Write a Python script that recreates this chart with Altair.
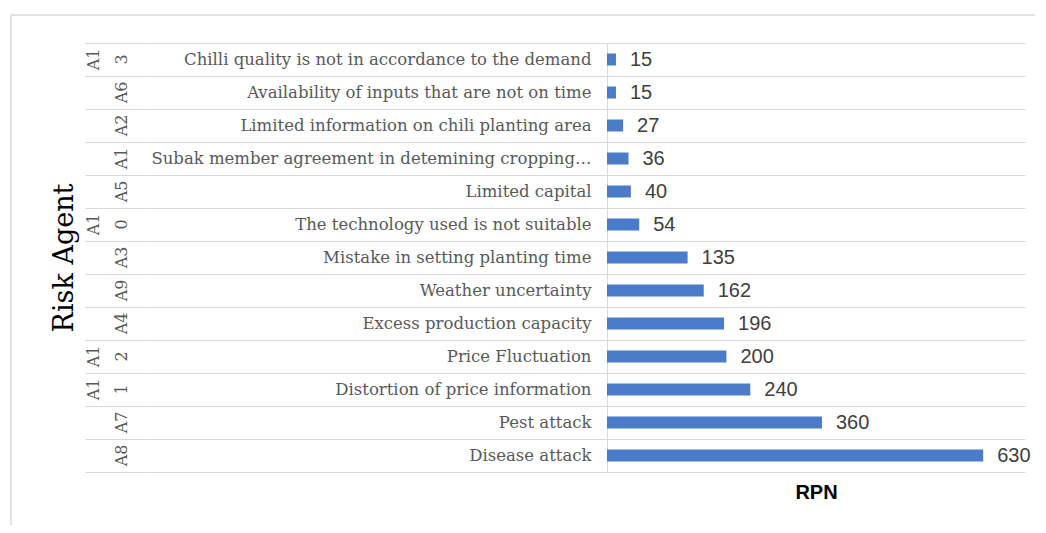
import altair as alt
import pandas as pd

codes = ["A13", "A6", "A2", "A1", "A5", "A10", "A3", "A9", "A4", "A12", "A11", "A7", "A8"]
labels = [
    "Chilli quality is not in accordance to the demand",
    "Availability of inputs that are not on time",
    "Limited information on chili planting area",
    "Subak member agreement in detemining cropping\u2026",
    "Limited capital",
    "The technology used is not suitable",
    "Mistake in setting planting time",
    "Weather uncertainty",
    "Excess production capacity",
    "Price Fluctuation",
    "Distortion of price information",
    "Pest attack",
    "Disease attack",
]
rpn = [15, 15, 27, 36, 40, 54, 135, 162, 196, 200, 240, 360, 630]

# codes wider than the column wrap onto two rotated lines, as in the source
code_first = [c[:2] if len(c) > 2 else "" for c in codes]
code_last = [c[2:] if len(c) > 2 else c for c in codes]
df = pd.DataFrame({"first": code_first, "last": code_last, "label": labels, "rpn": rpn})

GRID = "#d9d9d9"
SERIF = "DejaVu Serif"
SANS = "Liberation Sans"
H = 429

yscale = alt.Scale(domain=labels, paddingInner=0, paddingOuter=0)

# left panel: codes column
code_y = alt.Y(
    "label:N", sort=labels, scale=yscale,
    axis=alt.Axis(
        labels=False, ticks=False, domain=False, grid=True, tickBand="extent",
        gridColor=GRID, gridWidth=1, title="Risk Agent", titleFont=SERIF,
        titleFontSize=27, titleFontWeight="normal", titleColor="#000000",
        titlePadding=7,
    ),
)
code_style = dict(angle=270, baseline="bottom", align="center",
                  font=SERIF, fontSize=16, color="#595959")
codes_last = alt.Chart(df).mark_text(**code_style).encode(
    y=code_y, x=alt.value(45), text="last:N"
)
codes_first = alt.Chart(df).mark_text(**code_style).encode(
    y=alt.Y("label:N", sort=labels, scale=yscale), x=alt.value(17), text="first:N"
)

frame = pd.DataFrame({"k": [0]})
frame_top = alt.Chart(frame).mark_rule(color=GRID, strokeWidth=1.5).encode(
    x=alt.value(-74), x2=alt.value(950), y=alt.value(-28)
)
frame_left = alt.Chart(frame).mark_rule(color=GRID, strokeWidth=1.5).encode(
    x=alt.value(-74), y=alt.value(-28), y2=alt.value(482)
)
left = alt.layer(codes_last, codes_first, frame_top, frame_left).properties(width=66, height=H)

# right panel: bars
main_y = alt.Y(
    "label:N", sort=labels, scale=yscale,
    axis=alt.Axis(
        title=None, domain=True, domainColor=GRID, ticks=True, tickSize=456,
        tickColor=GRID, tickBand="extent", grid=True, gridColor=GRID,
        labelFont=SERIF, labelFontSize=16.5, labelColor="#595959",
        labelPadding=-440, labelLimit=470,
    ),
)
main_x = alt.X(
    "rpn:Q", scale=alt.Scale(domain=[0, 700], nice=False),
    axis=alt.Axis(
        labels=False, ticks=False, domain=False, grid=False, title="RPN",
        titleFont=SANS, titleFontSize=20, titleFontWeight="bold",
        titleColor="#000000", titlePadding=10,
    ),
)
bars = alt.Chart(df).mark_bar(size=12, color="#4a7cca").encode(y=main_y, x=main_x)
vals = alt.Chart(df).mark_text(
    align="left", baseline="middle", dx=14, font=SANS, fontSize=20, color="#404040"
).encode(y=alt.Y("label:N", sort=labels, scale=yscale), x="rpn:Q", text="rpn:Q")
right = alt.layer(bars, vals).properties(width=418, height=H)

chart = alt.hconcat(left, right, spacing=456, bounds="flush").properties(
    padding={"left": 2, "top": 6, "right": 0, "bottom": 0}
).configure_view(stroke=None)

chart.save("out.html", embed_options={"renderer": "svg", "actions": False})
